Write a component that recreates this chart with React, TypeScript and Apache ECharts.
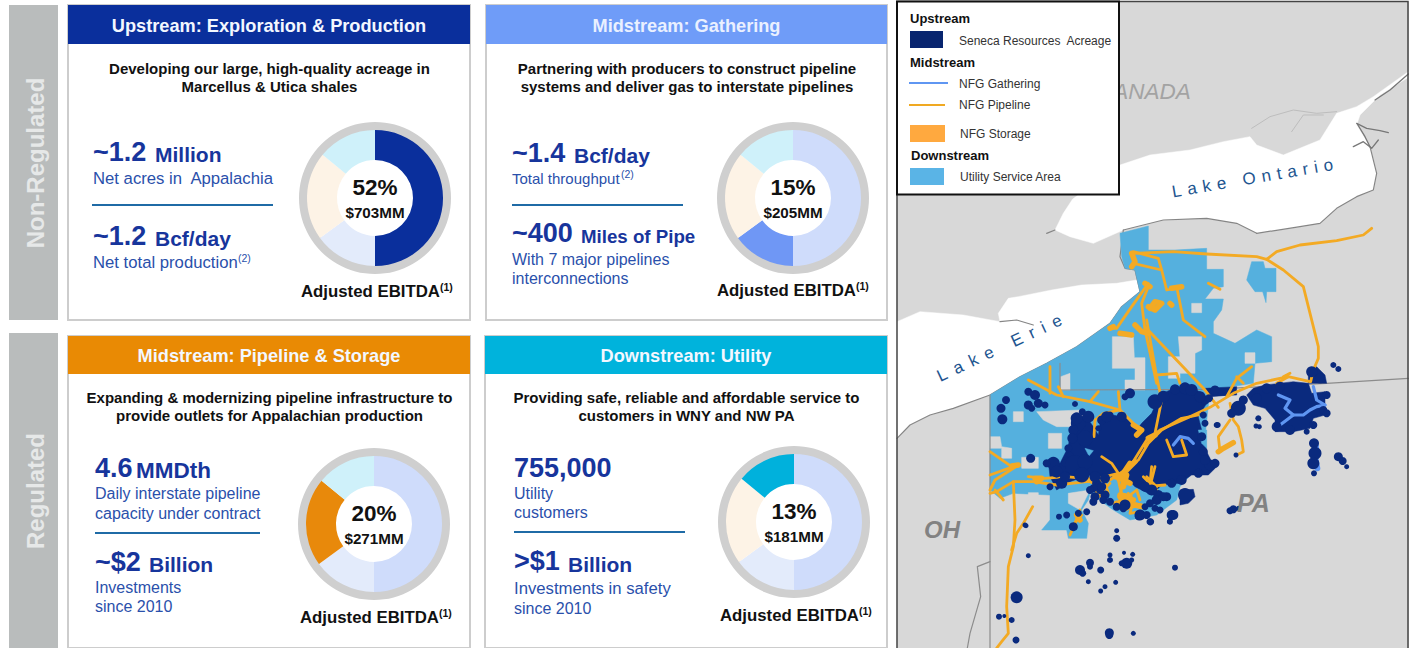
import React, { useEffect, useRef } from "react";
import * as echarts from "echarts";

const FONT = "Liberation Sans";
// Business segment shares of Adjusted EBITDA: printed labels, and the slice sizes as drawn in the picture
const segments = ["Upstream", "Gathering", "Pipeline & Storage", "Utility"];
const sliceShares = [50, 15, 21, 14];
const centerPct = ["52%", "15%", "20%", "13%"];
const centerAmt = ["$703MM", "$205MM", "$271MM", "$181MM"];
const titles = ["Upstream: Exploration & Production", "Midstream: Gathering", "Midstream: Pipeline & Storage", "Downstream: Utility"];
const headerColors = ["#0a2f9c", "#6f9cf8", "#e98a04", "#00b3dc"];
const activeColors = ["#0a2f9c", "#6f97f5", "#e8890b", "#00b1dc"];
const fadedColors = ["#cfdcfb", "#e3ebfb", "#fdf3e6", "#cff1fa"];

// Map data, in map units (3 units = 1 screen pixel)
const shift = (dx: number, dy: number, pts: number[][]) => pts.map((p) => [p[0] + dx, p[1] + dy, ...p.slice(2)]);
const Z5 = (pts: number[][]) => shift(285, 660, pts);
const Z6 = (pts: number[][]) => shift(285, 1140, pts);
const Z3 = (pts: number[][]) => shift(0, 960, pts);
const Z7 = (pts: number[][]) => shift(960, 1020, pts);

const lakeOntario = [[495,690],[520,640],[548,597],[690,495],[780,465],[900,450],[1000,425],[1080,410],[1100,435],[1180,465],[1290,420],[1340,340],[1400,320],[1450,290],[1555,215],[1555,232],[1470,285],[1410,345],[1400,375],[1440,440],[1460,520],[1450,570],[1400,590],[1340,625],[1290,670],[1230,680],[1100,700],[1040,670],[950,655],[820,660],[700,690],[610,730],[540,710]];
const lakeErie = [[21,965],[90,935],[220,945],[330,965],[325,940],[355,895],[385,890],[485,870],[575,855],[680,850],[740,840],[750,875],[695,920],[660,970],[560,1040],[470,1090],[390,1130],[300,1185],[190,1225],[120,1245],[60,1275],[21,1315]];
const shoreLines = [
  [[495,690],[470,700]],
  [[1100,700],[1230,680],[1290,670],[1340,625],[1400,590],[1450,570],[1460,520],[1440,440]],
  [[1100,700],[1040,670],[950,655],[820,660],[700,690]],
  [[700,690],[690,770],[705,805],[735,810],[750,875],[695,920],[660,970],[560,1040],[470,1090],[390,1130],[300,1185],[190,1225],[120,1245],[60,1275],[21,1315]],
  [[330,965],[380,960],[430,975]],
];
const islandLines = [
  [[1400,370],[1430,385],[1470,392],[1495,398]],
  [[1390,440],[1420,425],[1445,445],[1465,420]],
  [[1455,300],[1500,270],[1555,222]],
  [[1402,372],[1425,410],[1440,440]],
];
const faintLines = [
  [[1085,385],[1140,350],[1210,330],[1280,340],[1340,335]],
  [[1205,395],[1240,345],[1300,345]],
];
const stateLines = [
  [[300,1185],[300,1944]],
  [[510,1090],[510,1170],[960,1168],[1310,1150],[1555,1135]],
  [[300,1685],[262,1700],[272,1790],[240,1900],[232,1944]],
];

const serviceArea = [[690,700],[775,678],[775,750],[855,750],[950,745],[950,808],[1000,808],[1000,860],[970,865],[945,897],[1000,897],[995,930],[970,965],[970,1000],[1035,1030],[1100,990],[1145,1010],[1145,1085],[1095,1090],[1090,1150],[960,1170],[945,1310],[950,1370],[870,1460],[860,1500],[800,1545],[720,1560],[670,1530],[600,1480],[595,1500],[575,1530],[595,1570],[590,1615],[535,1615],[530,1590],[455,1590],[480,1560],[480,1485],[370,1480],[330,1495],[300,1470],[300,1185],[390,1130],[470,1090],[560,1040],[660,970],[695,920],[750,875],[735,810],[705,805],[695,770]];
const serviceEast = [[1085,785],[1120,785],[1125,805],[1158,805],[1158,875],[1130,875],[1128,908],[1118,875],[1095,875],[1070,840]];
const serviceHoles = [
  [[667,1010],[730,1010],[733,1073],[765,1073],[765,1170],[705,1170],[705,1140],[735,1140],[735,1105],[667,1105]],
  [[835,1070],[870,1070],[865,1010],[935,1010],[935,1050],[915,1060],[915,1120],[870,1120],[870,1135],[835,1135]],
  [[905,910],[935,910],[935,938],[905,938]],
  [[1065,1058],[1095,1058],[1095,1090],[1065,1090]],
  [[512,1130],[540,1120],[540,1170],[512,1170]],
  [[370,1235],[400,1235],[400,1265],[370,1265]],
  [[440,1235],[575,1230],[590,1280],[500,1280],[460,1260]],
  [[475,1300],[515,1300],[515,1345],[475,1345]],
  [[300,1310],[330,1310],[335,1340],[365,1345],[365,1375],[335,1375],[335,1345],[300,1345]],
  [[395,1372],[445,1372],[445,1405],[395,1405]],
  [[415,1478],[445,1478],[445,1500],[415,1500]],
  [[535,1480],[600,1470],[570,1530],[535,1510]],
];
const serviceInner = [
  Z6([[385,350],[430,335],[480,350],[490,395],[440,395],[400,385]]),
  Z6([[300,205],[325,212],[312,228]]),
  Z6([[640,150],[665,150],[665,205],[650,190]]),
];

const acreageShapes = [
  Z6([[340,165],[345,130],[385,105],[425,115],[455,150],[470,130],[500,100],[525,45],[555,30],[610,20],[655,40],[665,70],[640,110],[650,150],[665,215],[680,245],[695,260],[670,285],[620,285],[585,310],[530,315],[500,345],[450,320],[430,300],[390,290],[340,295],[310,285],[255,305],[215,330],[195,290],[190,245],[225,250],[250,200],[255,160],[270,120],[300,105],[325,140]]),
  Z6([[585,330],[625,328],[630,350],[610,370],[585,375]]),
  Z7([[110,165],[130,145],[165,135],[250,125],[295,130],[305,160],[345,155],[345,225],[310,235],[300,265],[250,275],[195,275],[195,240],[165,205],[130,195]]),
  Z7([[295,90],[320,80],[345,105],[350,130],[295,130]]),
  Z7([[0,150],[60,145],[60,165],[0,170]]),
  Z3([[945,205],[1040,200],[1040,225],[960,228]]),
];
const acreageDots = [
  ...Z6([[63,60,8],[48,85,9],[52,118,10],[130,35,8],[150,45,10],[130,75,9],[160,70,9],[140,85,7],[180,75,7],[270,72,6],[292,95,7],[137,235,9],[280,130,15],[300,175,16],[265,150,10],[250,205,8],[255,225,7],[240,250,7],[205,250,13],[215,275,12],[270,255,20],[300,245,15],[290,285,15],[230,310,11],[195,320,7],[435,40,10],[420,50,7],[510,65,15],[350,120,9],[340,145,6],[375,105,7],[660,60,9],[655,105,7],[660,130,7],[698,135,6],[675,255,11],[690,250,9],[640,280,9],[520,345,10],[545,350,9],[510,385,7],[525,390,7],[465,405,11],[480,380,7],[497,425,7],[555,425,6],[565,405,10],[420,375,11],[330,350,9],[335,310,9],[360,345,9],[345,330,8],[395,475,7],[395,452,5],[305,395,7],[280,400,7],[245,405,7],[222,410,6],[265,440,9],[123,437,5],[600,345,14],[600,25,12],[570,28,10],[690,30,9],[672,55,8],[620,30,12],[645,50,11],[535,50,12],[275,115,12],[310,110,12],[262,175,10],[365,110,11],[410,110,10],[500,330,11],[480,320,10],[360,295,10],[330,290,11],[185,250,8],[240,290,10],[650,170,9],[655,215,9],[660,240,10],[590,300,10],[560,310,9],[325,325,8],[350,320,9]]),
  ...Z3([[405,615,5],[415,707,5],[380,832,12],[327,890,6],[343,888,4],[365,900,6],[378,960,7],[658,938,9],[658,945,8],[730,940,5],[855,743,6],[660,705,5],[660,720,6],[702,698,4],[728,703,5],[710,730,11],[695,730,6],[725,720,5],[600,728,8],[600,740,6],[570,750,10],[578,760,7],[632,750,7],[595,785,5],[677,787,5],[645,800,5],[632,813,5],[1038,405,5],[980,315,6],[1105,295,6],[1098,318,5],[1108,320,5],[1020,572,7],[1030,568,8],[1045,565,5],[1330,135,6],[1345,147,6],[1272,370,10],[1275,400,13],[1270,430,12],[1272,460,6],[1345,410,9],[1358,423,8],[1370,440,5],[1045,265,15],[1025,280,9],[1060,240,9],[1100,235,10],[1160,320,10],[1200,330,10],[1300,270,8],[1270,315,8],[1265,155,11],[1290,175,10],[845,585,10],[838,605,5],[780,605,7],[1170,200,10],[1130,205,10],[1250,335,6],[1310,225,8],[1310,280,8],[800,540,10],[820,530,9],[780,550,8],[770,585,8],[745,590,7],[700,565,8],[680,560,8],[610,545,8],[600,510,8],[640,540,8],[660,545,8]]),
];
const gatheringLines = [
  Z7([[205,165],[240,180],[225,205],[250,225],[210,255]]),
  Z7([[250,225],[280,225],[300,210],[320,200],[345,195]]),
  Z7([[310,140],[320,180],[345,195]]),
  Z6([[565,195],[585,170],[610,175],[625,190]]),
];
const gatheringThick = [
  Z7([[318,320],[315,350],[322,385]]),
];
const pipelines = [
  [[730,760],[850,755],[950,762],[1100,770],[1130,778],[1160,755],[1230,735],[1340,722],[1420,705],[1445,685]],
  [[1130,778],[1180,810],[1240,860],[1255,920],[1270,980],[1285,1040],[1285,1075],[1270,1110],[1262,1145]],
  [[1260,1145],[1195,1130],[1100,1150],[1030,1180],[960,1222],[890,1255],[810,1290],[770,1320],[720,1400],[660,1440],[590,1445],[500,1455],[430,1445],[370,1445],[320,1475],[300,1480]],
  [[770,960],[800,1130],[815,1200],[795,1300],[765,1340]],
  [[765,980],[945,1170],[985,1222]],
  [[775,850],[725,920],[680,985],[665,985]],
  [[775,860],[755,910],[765,990],[800,1150]],
  [[730,755],[805,775],[815,810],[830,870],[875,860]],
  [[730,790],[815,810]],
  [[860,860],[880,960],[945,1010]],
  [[955,850],[990,868]],
  [[800,1125],[860,1120],[870,1150]],
  [[415,1140],[500,1185],[600,1205],[690,1230],[750,1290]],
  [[685,1175],[690,1230]],
  [[625,1175],[600,1205]],
  [[505,1160],[520,1190]],
  [[480,1100],[480,1180]],
  [[612,1310],[615,1260],[640,1240],[690,1230]],
  [[300,1355],[365,1400],[385,1395],[315,1440],[300,1470]],
  [[300,1425],[370,1400]],
  [[315,1470],[340,1500]],
  [[370,1445],[375,1560],[370,1640],[355,1700],[350,1820],[355,1900],[335,1925],[320,1944]],
  [[428,1520],[400,1570],[380,1600],[365,1650]],
  [[570,1530],[555,1570],[540,1605]],
  [[575,1545],[545,1580]],
  [[830,1320],[850,1370],[890,1365],[875,1320]],
  [[785,1400],[780,1450],[800,1470]],
  [[760,1430],[790,1460]],
  [[1020,1210],[1030,1260],[1045,1280],[1055,1320],[1060,1355],[1040,1365]],
  [[1020,1260],[985,1310],[990,1355]],
  [[1040,1130],[1060,1150]],
  [[1085,1100],[1040,1135],[1010,1190]],
  [[1180,1130],[1200,1120]],
  [[1160,1150],[1195,1130]],
  ...[
    [[400,300],[430,265],[460,240],[490,190],[530,150],[590,115],[640,105]],
    [[130,290],[180,295],[240,290],[300,295],[340,295],[400,280]],
    [[335,305],[345,340],[375,310]],
    [[510,260],[500,300],[480,320],[540,315]],
    [[350,230],[380,250],[400,280]],
    [[400,300],[410,345],[400,375]],
    [[430,340],[440,370],[470,375]],
  ].map(Z6),
  ...[
    [[590,480],[610,490],[625,530],[610,540]],
    [[620,490],[640,510],[650,530]],
    [[640,470],[655,520],[640,535]],
    [[700,460],[690,540]],
    [[670,550],[700,540],[740,510],[750,540]],
    [[730,540],[720,580],[750,575]],
    [[770,470],[800,500],[790,510]],
  ].map(Z3),
];
const pipelineBlobs = [
  ...[
    [[490,260],[510,270],[530,250],[510,245],[495,265]],
    [[405,340],[440,345]],
    [[450,315],[470,335],[490,340]],
    [[375,325],[385,320]],
    [[440,100],[450,125],[440,140]],
    [[560,205],[590,200]],
    [[480,190],[495,200]],
    [[555,250],[560,255]],
  ].map(Z5),
  ...[
    [[445,135],[470,150],[455,165]],
    [[490,175],[510,165]],
    [[400,295],[430,265],[450,245]],
    [[390,290],[425,285],[415,320]],
    [[395,370],[420,385],[450,375],[470,380]],
    [[405,345],[435,350],[425,375]],
    [[150,295],[170,295],[155,305]],
    [[335,330],[345,345]],
    [[80,258],[100,255]],
  ].map(Z6),
  Z3([[985,395],[1000,385],[1030,368]]),
  Z3([[560,585],[570,600]]),
  Z3([[680,470],[720,490]]),
  Z3([[690,530],[730,540]]),
  Z3([[720,430],[700,460]]),
];
const mapLabels = [
  { text: "CANADA", x: 1097, y: 91, size: 22.5, weight: "normal", color: "#a3a3a3" },
  { text: "OH", x: 924, y: 529, size: 24, weight: "bold", color: "#828282" },
  { text: "PA", x: 1237, y: 503, size: 25, weight: "bold", color: "#828282" },
];

function App() {
  const ref = useRef<HTMLDivElement>(null);
  useEffect(() => {
    const chart = echarts.init(ref.current!, undefined, { renderer: "svg" });

    const T = (text: string, x: number, y: number, o: any = {}) => ({
      type: "text", x, y, z: o.z ?? 30, rotation: o.rotation ?? 0,
      style: {
        text, fontFamily: FONT, fontSize: o.size ?? 14, fontWeight: o.weight ?? "normal",
        fontStyle: o.fontStyle ?? "normal", fill: o.fill ?? "#1f45a5",
        textAlign: o.align ?? "left", textVerticalAlign: "middle", textBaseline: "middle",
      },
    });
    const R = (x: number, y: number, w: number, h: number, fill: string, o: any = {}) => ({
      type: "rect", z: o.z ?? 1, shape: { x, y, width: w, height: h },
      style: { fill, stroke: o.stroke, lineWidth: o.lineWidth ?? 0 },
    });
    const L = (x1: number, y1: number, x2: number, y2: number, stroke: string, lw: number, z = 5) => ({
      type: "line", z, shape: { x1, y1, x2, y2 }, style: { stroke, lineWidth: lw },
    });
    const NAVY = "#17359c", BLUE = "#2a50ab", RULE = "#1f6ba6";

    const panels = [
      { x: 68, y: 5, w: 402, h: 315, hh: 39, cx: 375, cy: 198, sub: ["Developing our large, high-quality acreage in", "Marcellus & Utica shales"], subY: [68, 86], adjX: 301, adjY: 291 },
      { x: 486, y: 5, w: 401, h: 315, hh: 39, cx: 793, cy: 198, sub: ["Partnering with producers to construct pipeline", "systems and deliver gas to interstate pipelines"], subY: [68, 86], adjX: 717, adjY: 290 },
      { x: 68, y: 336, w: 402, h: 312, hh: 38, cx: 374, cy: 524, sub: ["Expanding & modernizing pipeline infrastructure to", "provide outlets for Appalachian production"], subY: [397, 415], adjX: 300, adjY: 617 },
      { x: 485, y: 336, w: 402, h: 312, hh: 38, cx: 794, cy: 522, sub: ["Providing safe, reliable and affordable service to", "customers in WNY and NW PA"], subY: [397, 415], adjX: 720, adjY: 615 },
    ];

    const g: any[] = [
      R(9, 5, 49, 315, "#b9bcbc"),
      R(9, 333, 49, 315, "#b9bcbc"),
      T("Non-Regulated", 35, 163, { size: 24, weight: "bold", fill: "#e6e8e8", align: "center", rotation: Math.PI / 2 }),
      T("Regulated", 35, 491, { size: 24, weight: "bold", fill: "#e6e8e8", align: "center", rotation: Math.PI / 2 }),
    ];
    panels.forEach((p, i) => {
      g.push(R(p.x, p.y, p.w, p.h, "#ffffff", { stroke: "#cdcdcd", lineWidth: 2 }));
      g.push(R(p.x, p.y, p.w, p.hh, headerColors[i], { z: 2 }));
      g.push(T(titles[i], p.x + p.w / 2, p.y + p.hh / 2 + 1, { size: 18.2, weight: "bold", fill: i === 1 ? "#eaf0ff" : "#f3f7ff", align: "center" }));
      p.sub.forEach((s, k) => g.push(T(s, p.x + p.w / 2 + 0.5, p.subY[k], { size: 15, weight: "bold", fill: "#111", align: "center" })));
      g.push(T(centerPct[i], p.cx, p.cy - 11, { size: 22.5, weight: "bold", fill: "#111", align: "center" }));
      g.push(T(centerAmt[i], p.cx, p.cy + 14, { size: 15.2, weight: "bold", fill: "#111", align: "center" }));
      g.push(T("Adjusted EBITDA", p.adjX, p.adjY, { size: 16.8, weight: "bold", fill: "#111" }));
      g.push(T("(1)", p.adjX + 139, p.adjY - 4, { size: 10.5, weight: "bold", fill: "#111" }));
    });
    const big = (t: string, x: number, y: number) => T(t, x, y, { size: 27, weight: "bold", fill: NAVY });
    const unit = (t: string, x: number, y: number, size = 21) => T(t, x, y, { size, weight: "bold", fill: NAVY });
    const small = (t: string, x: number, y: number, size = 16) => T(t, x, y, { size, fill: BLUE });
    const sup = (x: number, y: number) => T("(2)", x, y, { size: 10.5, fill: BLUE });
    g.push(
      big("~1.2", 93, 152), unit("Million", 155, 154), small("Net acres in  Appalachia", 93, 178, 16.7), L(92, 205, 273, 205, RULE, 2),
      big("~1.2", 93, 236), unit("Bcf/day", 155, 238), small("Net total production", 93, 262, 16.7), sup(238, 258),
      big("~1.4", 512, 153), unit("Bcf/day", 574, 155), small("Total throughput", 512, 178, 15), sup(621, 174), L(512, 205, 683, 205, RULE, 2),
      big("~400", 512, 233), unit("Miles of Pipe", 581, 236, 18.7), small("With 7 major pipelines", 512, 259), small("interconnections", 512, 278),
      big("4.6", 95, 468), unit("MMDth", 136, 470, 22.5), small("Daily interstate pipeline", 95, 493), small("capacity under contract", 95, 513), L(95, 533, 260, 533, RULE, 2),
      big("~$2", 95, 562), unit("Billion", 149, 564), small("Investments", 95, 587), small("since 2010", 95, 606),
      big("755,000", 514, 468), small("Utility", 514, 493), small("customers", 514, 512), L(514, 532, 685, 532, RULE, 2),
      big(">$1", 514, 561), unit("Billion", 568, 564), small("Investments in safety", 514, 588, 16.7), small("since 2010", 514, 608),
    );

    // map labels
    mapLabels.forEach((m) => g.push(T(m.text, m.x, m.y, { size: m.size, weight: m.weight, fontStyle: "italic", fill: m.color, z: 20 })));
    g.push(T("Lake Ontario", 1172, 192, { size: 17, fill: "#1e5590", rotation: 0.17, z: 20 }));
    g.push(T("Lake Erie", 938, 377, { size: 17, fill: "#1e5590", rotation: 0.44, z: 20 }));

    // map frame and legend
    g.push({ type: "rect", z: 40, shape: { x: 897, y: 1.5, width: 511, height: 660 }, style: { fill: "none", stroke: "#444", lineWidth: 1.5 } });
    g.push(R(897, 1.5, 222, 193, "#ffffff", { z: 50, stroke: "#111", lineWidth: 2 }));
    const lz = { z: 60 };
    const lt = (t: string, x: number, y: number) => T(t, x, y, { size: 12, fill: "#333", z: 60 });
    const lb = (t: string, x: number, y: number) => T(t, x, y, { size: 13, weight: "bold", fill: "#111", z: 60 });
    g.push(
      lb("Upstream", 910, 18), R(910, 31, 33, 17, "#08256f", lz), lt("Seneca Resources  Acreage", 959, 40.5),
      lb("Midstream", 910, 62), L(909, 83, 948, 83, "#5f96f2", 2, 60), lt("NFG Gathering", 959, 84),
      L(909, 105, 945, 105, "#f0a922", 2, 60), lt("NFG Pipeline", 959, 105),
      R(910, 125, 35, 17, "#ffa93f", lz), lt("NFG Storage", 960, 134),
      lb("Downstream", 911, 155), R(910, 168, 34, 17, "#5ab4e6", lz), lt("Utility Service Area", 960, 177),
    );

    const shapeSeries = (shapes: number[][][], fill: string, z: number) => ({
      type: "custom", coordinateSystem: "cartesian2d", silent: true, z, clip: true,
      data: shapes.map((_, i) => [i, 0]),
      renderItem: (params: any, api: any) => ({
        type: "polygon",
        shape: { points: shapes[params.dataIndex].map((p) => api.coord(p)) },
        style: { fill, stroke: fill, lineWidth: 0.5 },
      }),
    });
    const lineSeries = (lines: number[][][], stroke: string, width: number, z: number) => ({
      type: "custom", coordinateSystem: "cartesian2d", silent: true, z, clip: true,
      data: lines.map((_, i) => [i, 0]),
      renderItem: (params: any, api: any) => ({
        type: "polyline",
        shape: { points: lines[params.dataIndex].map((p) => api.coord(p)) },
        style: { fill: "none", stroke, lineWidth: width, lineJoin: "round", lineCap: "round" },
      }),
    });
    const ringPies = panels.map((p) => ({
      type: "pie", center: [p.cx, p.cy], radius: [67, 76], silent: true, z: 3,
      label: { show: false }, labelLine: { show: false },
      data: [{ value: 100, name: "ring", itemStyle: { color: "#cfcfcf" } }],
    }));
    const pies = panels.map((p, i) => ({
      type: "pie", center: [p.cx, p.cy], radius: [38, 68], startAngle: 90, silent: true, z: 4,
      label: { show: false }, labelLine: { show: false },
      data: sliceShares.map((v, k) => ({ value: v, name: segments[k], itemStyle: { color: k === i ? activeColors[k] : fadedColors[k], borderWidth: 0 } })),
    }));

    chart.setOption({
      animation: false,
      graphic: { elements: g },
      grid: { left: 890, top: 0, width: 524, height: 648, containLabel: false },
      xAxis: { type: "value", min: 0, max: 1572, show: false },
      yAxis: { type: "value", min: 0, max: 1944, inverse: true, show: false },
      series: [
        shapeSeries([[[21,6],[1555,6],[1555,1944],[21,1944]]], "#d8d8d8", 2),
        lineSeries(faintLines, "#bdbdbd", 1, 2),
        shapeSeries([lakeOntario, lakeErie], "#ffffff", 2),
        lineSeries(shoreLines, "#858585", 1.2, 2),
        lineSeries(islandLines, "#777777", 1.3, 2),
        shapeSeries([serviceArea, serviceEast], "#55b0de", 2),
        shapeSeries(serviceHoles, "#d8d8d8", 2),
        lineSeries(stateLines, "#8c8c8c", 1.2, 2),
        shapeSeries(acreageShapes, "#0a2a7e", 2),
        { type: "scatter", silent: true, z: 2, data: acreageDots, symbol: "circle", symbolSize: (v: number[]) => v[2], itemStyle: { color: "#0a2a7e", opacity: 1 } },
        shapeSeries(serviceInner, "#55b0de", 2),
        lineSeries(gatheringLines, "#5f96f2", 3.2, 2),
        lineSeries(gatheringThick, "#5f96f2", 6, 2),
        lineSeries(pipelines, "#f3aa24", 2.8, 2),
        lineSeries(pipelineBlobs, "#f3aa24", 5.5, 2),
        ...ringPies,
        ...pies,
      ],
    });

    const spacing: Record<string, string> = { "Lake Ontario": "6px", "Lake Erie": "8px" };
    ref.current!.querySelectorAll("text").forEach((t) => {
      const s = spacing[t.textContent || ""];
      if (s) (t as SVGTextElement).style.letterSpacing = s;
    });
    return () => chart.dispose();
  }, []);
  return <div ref={ref} style={{ position: "fixed", left: 0, top: 0, width: 1414, height: 648, background: "#fff" }} />;
}

export default App;
